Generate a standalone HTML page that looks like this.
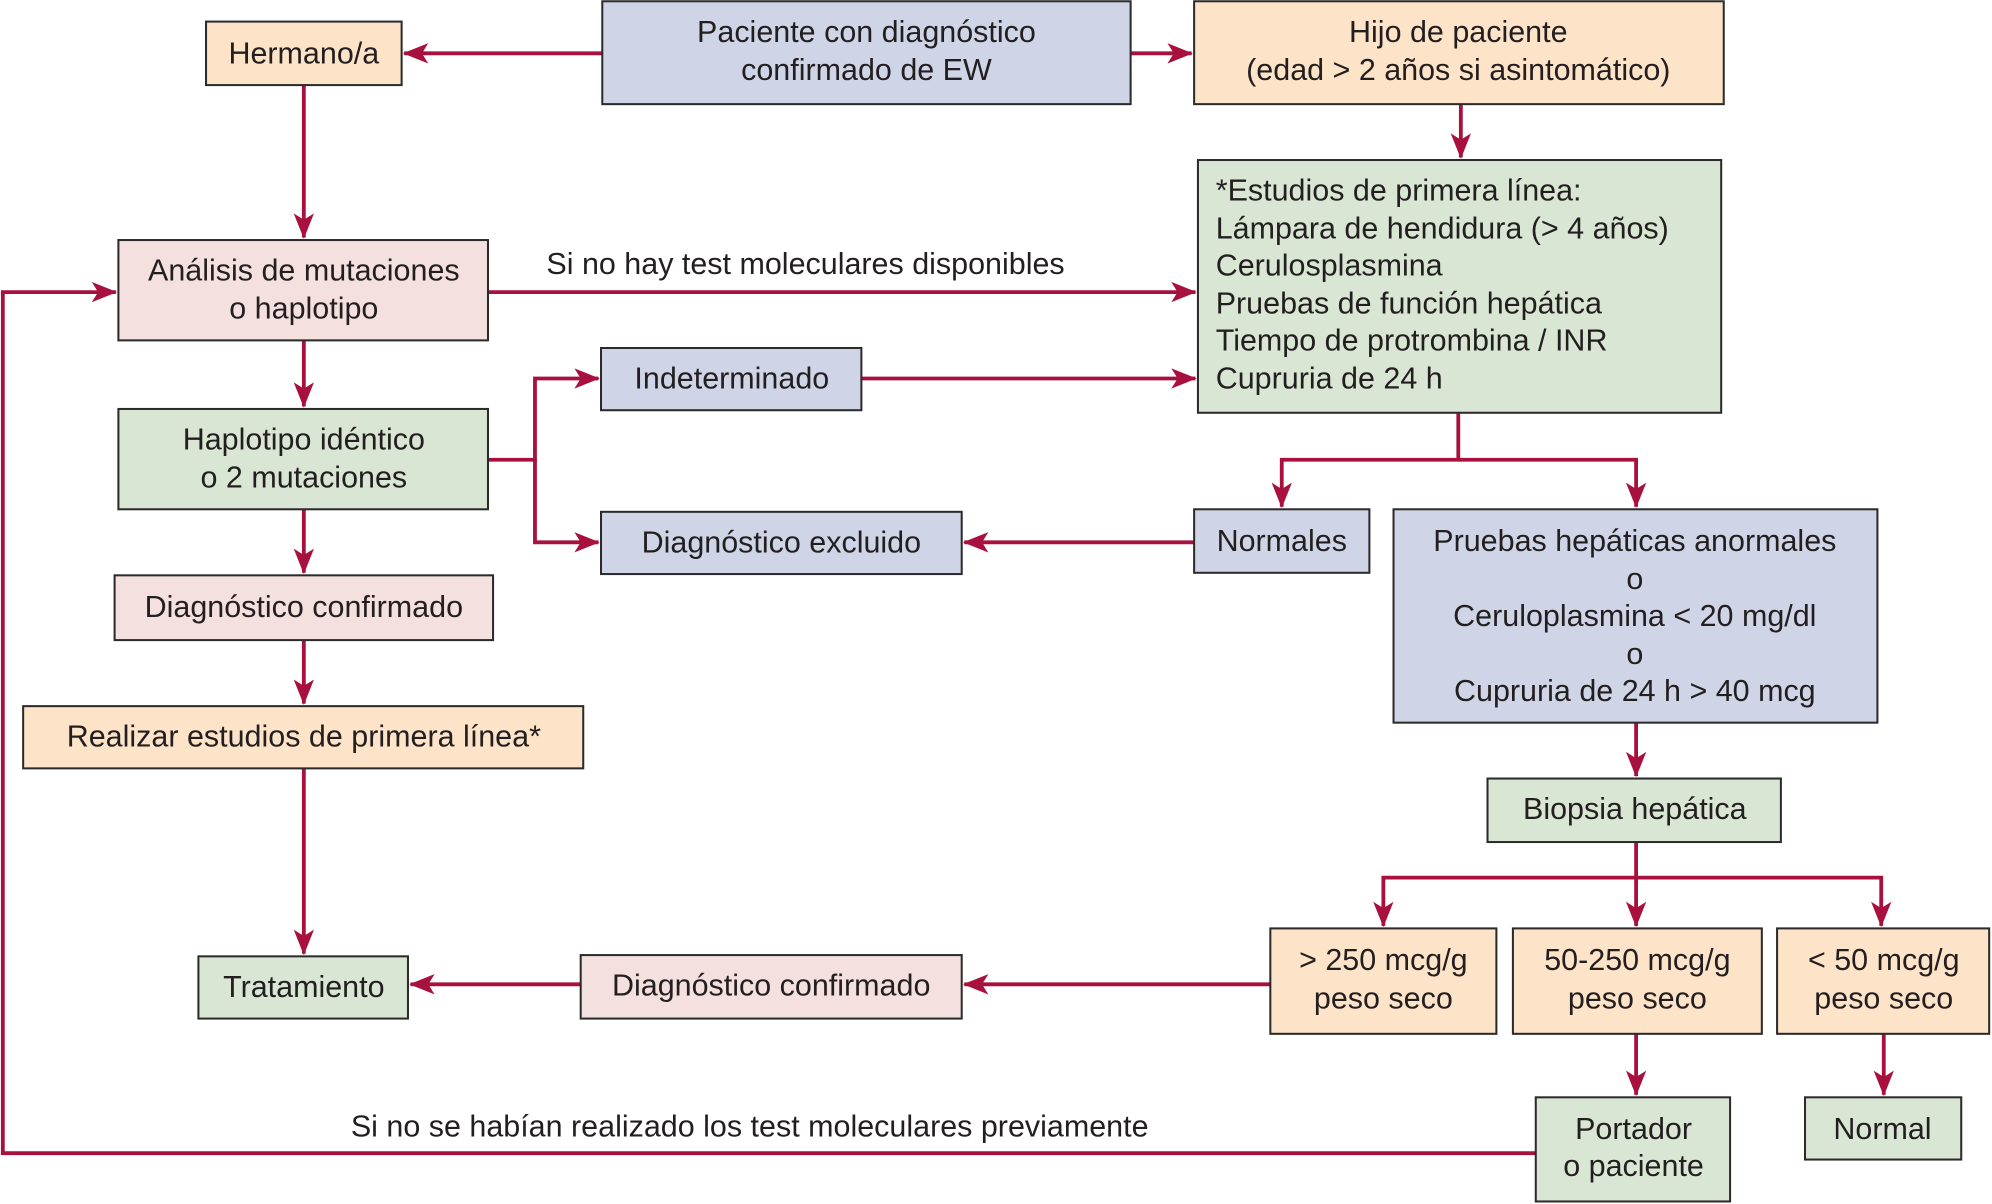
<!DOCTYPE html>
<html><head><meta charset="utf-8"><style>
html,body{margin:0;padding:0;background:#fff;}
svg{display:block;}
text{font-family:"Liberation Sans Narrow","Liberation Sans",sans-serif;font-size:24px;fill:#231f20;}
rect{stroke:#2b2b2b;stroke-width:1.6;}
.o{fill:#fde3c8}.b{fill:#cfd5e6}.p{fill:#f4e0de}.g{fill:#d9e6d3}
.l{stroke:#a8103e;stroke-width:3;fill:none;}
</style></head><body>
<svg width="1992" height="1204" viewBox="0 0 1568 948" xmlns="http://www.w3.org/2000/svg">
<defs><marker id="a" viewBox="0 0 20 16" refX="19" refY="8" markerWidth="20" markerHeight="16" markerUnits="userSpaceOnUse" orient="auto"><path d="M0,0 L20,8 L0,16 L5,8 Z" fill="#a8103e"/></marker></defs>

<g class="l">
<path d="M474,42 H318" marker-end="url(#a)"/>
<path d="M890,42 H938" marker-end="url(#a)"/>
<path d="M239,67 V187" marker-end="url(#a)"/>
<path d="M1150,82 V124" marker-end="url(#a)"/>
<path d="M384,230 H941" marker-end="url(#a)"/>
<path d="M239,268 V320" marker-end="url(#a)"/>
<path d="M384,362 H421 V298 H471" marker-end="url(#a)"/>
<path d="M421,362 V427 H471" marker-end="url(#a)"/>
<path d="M678,298 H941" marker-end="url(#a)"/>
<path d="M1148,325 V362 H1009 V399" marker-end="url(#a)"/>
<path d="M1148,362 H1288 V399" marker-end="url(#a)"/>
<path d="M940,427 H759" marker-end="url(#a)"/>
<path d="M239,401 V451" marker-end="url(#a)"/>
<path d="M239,504 V554" marker-end="url(#a)"/>
<path d="M239,605 V751" marker-end="url(#a)"/>
<path d="M1288,569 V611" marker-end="url(#a)"/>
<path d="M1288,663 V729" marker-end="url(#a)"/>
<path d="M1288,691 H1089 V729" marker-end="url(#a)"/>
<path d="M1288,691 H1481 V729" marker-end="url(#a)"/>
<path d="M1000,775 H759" marker-end="url(#a)"/>
<path d="M457,775 H323" marker-end="url(#a)"/>
<path d="M1288,814 V862" marker-end="url(#a)"/>
<path d="M1483,814 V862" marker-end="url(#a)"/>
<path d="M1209,908 H2 V230 H91" marker-end="url(#a)"/>
</g>

<rect class="o" x="162" y="17" width="154" height="50"/>
<rect class="b" x="474" y="1" width="416" height="81"/>
<rect class="o" x="940" y="1" width="417" height="81"/>
<rect class="g" x="943" y="126" width="412" height="199"/>
<rect class="p" x="93" y="189" width="291" height="79"/>
<rect class="b" x="473" y="274" width="205" height="49"/>
<rect class="g" x="93" y="322" width="291" height="79"/>
<rect class="b" x="473" y="403" width="284" height="49"/>
<rect class="b" x="940" y="401" width="138" height="50"/>
<rect class="b" x="1097" y="401" width="381" height="168"/>
<rect class="p" x="90" y="453" width="298" height="51"/>
<rect class="o" x="18" y="556" width="441" height="49"/>
<rect class="g" x="1171" y="613" width="231" height="50"/>
<rect class="g" x="156" y="753" width="165" height="49"/>
<rect class="p" x="457" y="752" width="300" height="50"/>
<rect class="o" x="1000" y="731" width="178" height="83"/>
<rect class="o" x="1191" y="731" width="196" height="83"/>
<rect class="o" x="1399" y="731" width="167" height="83"/>
<rect class="g" x="1209" y="864" width="153" height="82"/>
<rect class="g" x="1421" y="864" width="123" height="49"/>

<g text-anchor="middle" dominant-baseline="central">
<text x="239" y="42">Hermano/a</text>
<text x="682" y="25">Paciente con diagnóstico</text>
<text x="682" y="55">confirmado de EW</text>
<text x="1148" y="25">Hijo de paciente</text>
<text x="1148" y="55">(edad &gt; 2 años si asintomático)</text>
<text x="239" y="213">Análisis de mutaciones</text>
<text x="239" y="243">o haplotipo</text>
<text x="576" y="298">Indeterminado</text>
<text x="239" y="346">Haplotipo idéntico</text>
<text x="239" y="376">o 2 mutaciones</text>
<text x="615" y="427">Diagnóstico excluido</text>
<text x="1009" y="426">Normales</text>
<text x="1287" y="426">Pruebas hepáticas anormales</text>
<text x="1287" y="456">o</text>
<text x="1287" y="485">Ceruloplasmina &lt; 20 mg/dl</text>
<text x="1287" y="515">o</text>
<text x="1287" y="544">Cupruria de 24 h &gt; 40 mcg</text>
<text x="239" y="478">Diagnóstico confirmado</text>
<text x="239" y="580">Realizar estudios de primera línea*</text>
<text x="1287" y="637">Biopsia hepática</text>
<text x="239" y="777">Tratamiento</text>
<text x="607" y="776">Diagnóstico confirmado</text>
<text x="1089" y="756">&gt; 250 mcg/g</text>
<text x="1089" y="786">peso seco</text>
<text x="1289" y="756">50-250 mcg/g</text>
<text x="1289" y="786">peso seco</text>
<text x="1483" y="756">&lt; 50 mcg/g</text>
<text x="1483" y="786">peso seco</text>
<text x="1286" y="889">Portador</text>
<text x="1286" y="918">o paciente</text>
<text x="1482" y="889">Normal</text>
</g>
<g dominant-baseline="central">
<text x="957" y="150">*Estudios de primera línea:</text>
<text x="957" y="180">Lámpara de hendidura (&gt; 4 años)</text>
<text x="957" y="209">Cerulosplasmina</text>
<text x="957" y="239">Pruebas de función hepática</text>
<text x="957" y="268">Tiempo de protrombina / INR</text>
<text x="957" y="298">Cupruria de 24 h</text>
<text x="430" y="208">Si no hay test moleculares disponibles</text>
<text x="276" y="887">Si no se habían realizado los test moleculares previamente</text>
</g>
</svg>
</body></html>
